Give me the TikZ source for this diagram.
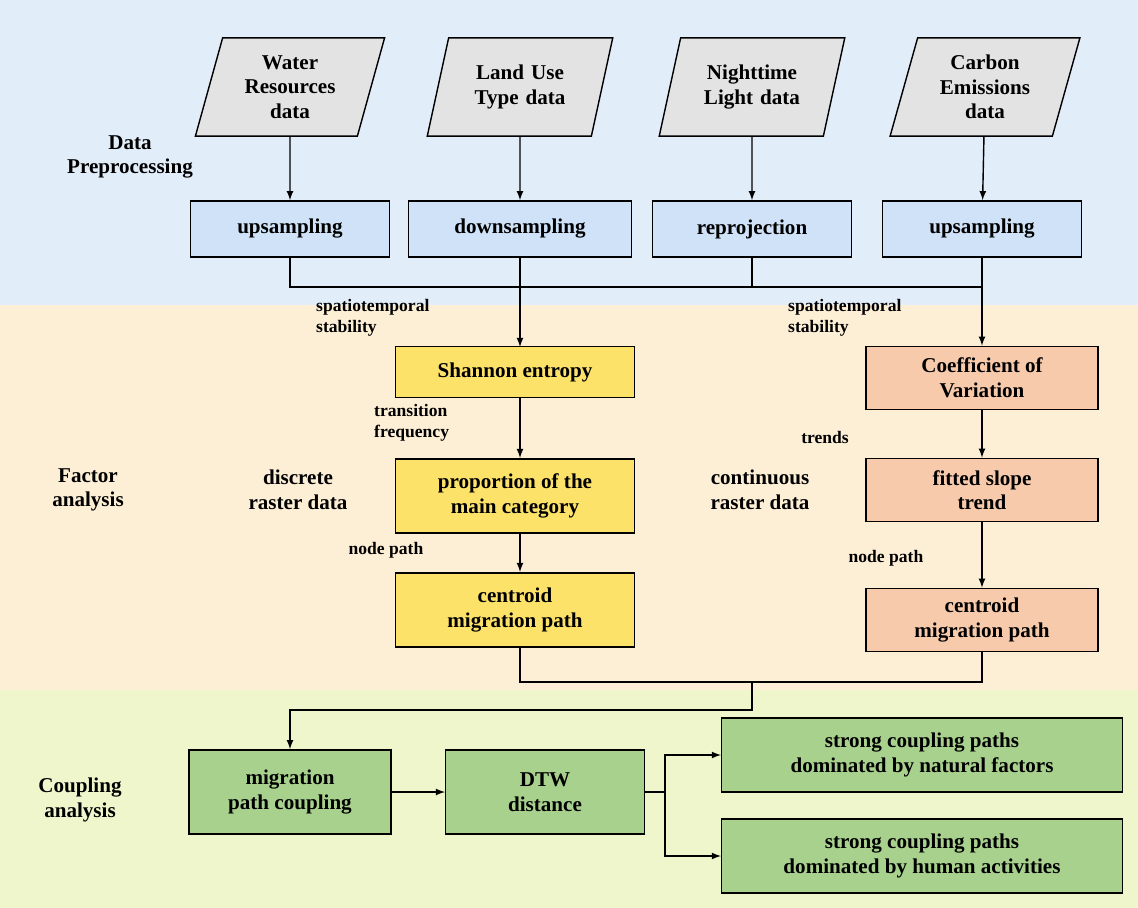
\documentclass[tikz,border=0pt]{standalone}
\usepackage{fontspec}
\setmainfont{Liberation Serif}
\usetikzlibrary{shapes.geometric, arrows, positioning}
\definecolor{bandblue}{HTML}{E2EDFA}
\definecolor{bandorange}{HTML}{FDEFD6}
\definecolor{bandgreen}{HTML}{EFF6CC}
\definecolor{boxblue}{HTML}{CFE2F7}
\definecolor{boxyellow}{HTML}{FDE26A}
\definecolor{boxsalmon}{HTML}{F7CAAC}
\definecolor{boxgreen}{HTML}{A9D18E}
\tikzstyle{source}=[trapezium, trapezium left angle=70, trapezium right angle=110, trapezium stretches=true, minimum width=10.6em, minimum height=5.6em, text width=7em, align=center, draw=black, thick, fill=gray!22, font=\bfseries\large]
\tikzstyle{prep}=[rectangle, minimum height=3.2em, align=center, draw=black, thick, fill=boxblue, font=\bfseries\large]
\tikzstyle{stage}=[rectangle, minimum width=13.6em, align=center, draw=black, thick, font=\bfseries\large]
\tikzstyle{lbl}=[align=left, font=\bfseries]
\tikzstyle{side}=[align=center, font=\bfseries\large]
\tikzstyle{arrow}=[thick, ->, >=latex]
\begin{document}
\begin{tikzpicture}[x=0.02cm, y=-0.02cm]
	\useasboundingbox (0,0) rectangle (1138,908);
	\fill[bandblue] (0,0) rectangle (1138,305);
	\fill[bandorange] (0,305) rectangle (1138,690);
	\fill[bandgreen] (0,690) rectangle (1138,908);

	\node (water) [source] at (290,87) {Water Resources data};
	\node (land) [source] at (520,87) {Land Use Type data};
	\node (light) [source] at (752,87) {Nighttime Light data};
	\node (carbon) [source] at (985,87) {Carbon Emissions data};

	\node (up1) [prep, minimum width=11.3em] at (290,229) {upsampling};
	\node (down) [prep, minimum width=12.7em] at (520,229) {downsampling};
	\node (reproj) [prep, minimum width=11.3em] at (752,229) {reprojection};
	\node (up2) [prep, minimum width=11.3em] at (982,229) {upsampling};

	\node (shannon) [stage, fill=boxyellow, minimum height=2.9em] at (515,372) {Shannon entropy};
	\node (prop) [stage, fill=boxyellow, minimum height=4.2em] at (515,496) {proportion of the\\main category};
	\node (centl) [stage, fill=boxyellow, minimum height=4.2em] at (515,610) {centroid\\migration path};
	\node (cv) [stage, fill=boxsalmon, minimum height=3.6em, minimum width=13.2em] at (982,378) {Coefficient of\\Variation};
	\node (slope) [stage, fill=boxsalmon, minimum height=3.6em, minimum width=13.2em] at (982,490) {fitted slope\\trend};
	\node (centr) [stage, fill=boxsalmon, minimum height=3.6em, minimum width=13.2em] at (982,620) {centroid\\migration path};

	\node (mig) [stage, fill=boxgreen, minimum width=11.5em, minimum height=4.8em] at (290,792) {migration\\path coupling};
	\node (dtw) [stage, fill=boxgreen, minimum width=11.3em, minimum height=4.8em] at (545,792) {DTW\\distance};
	\node (nat) [stage, fill=boxgreen, minimum width=22.8em, minimum height=4.2em] at (922,755) {strong coupling paths\\dominated by natural factors};
	\node (hum) [stage, fill=boxgreen, minimum width=22.8em, minimum height=4.2em] at (922,856) {strong coupling paths\\dominated by human activities};

	\node (dp) [side] at (130,157) {Data\\Preprocessing};
	\node (fa) [side] at (88,490) {Factor\\analysis};
	\node (ca) [side] at (80,800) {Coupling\\analysis};
	\node (disc) [side] at (298,490) {discrete\\raster data};
	\node (cont) [side] at (760,490) {continuous\\raster data};
	\node (st1) [lbl, anchor=west] at (310,318) {spatiotemporal\\stability};
	\node (st2) [lbl, anchor=west] at (782,318) {spatiotemporal\\stability};
	\node (tf) [lbl, anchor=west] at (368,423) {transition\\frequency};
	\node (np1) [lbl] at (386,550) {node path};
	\node (tr) [lbl] at (825,437) {trends};
	\node (np2) [lbl] at (886,558) {node path};

	\coordinate (jl) at (290,287);
	\coordinate (jr) at (982,287);
	\coordinate (kl) at (520,682);
	\coordinate (kr) at (982,682);
	\coordinate (km) at (752,682);
	\coordinate (fork) at (665,792);

	\draw [arrow] (water) -- (up1);
	\draw [arrow] (land) -- (down);
	\draw [arrow] (light) -- (reproj);
	\draw [arrow] (carbon) -- (up2);
	\draw [thick] (up1) -- (jl) -- (jr);
	\draw [thick] (down.south) -- (520,287);
	\draw [thick] (reproj) -- (752,287);
	\draw [arrow] (520,287) -- (520,347);
	\draw [arrow] (up2) -- (cv);
	\draw [arrow] (520,398) -- (520,458);
	\draw [arrow] (520,533) -- (520,572);
	\draw [arrow] (cv) -- (slope);
	\draw [arrow] (slope) -- (centr);
	\draw [thick] (520,648) -- (kl) -- (kr) -- (centr);
	\draw [arrow] (km) -- (752,710) -| (mig);
	\draw [arrow] (mig) -- (dtw);
	\draw [thick] (dtw) -- (fork);
	\draw [arrow] (fork) |- (nat);
	\draw [arrow] (fork) |- (hum);
\end{tikzpicture}
\end{document}
